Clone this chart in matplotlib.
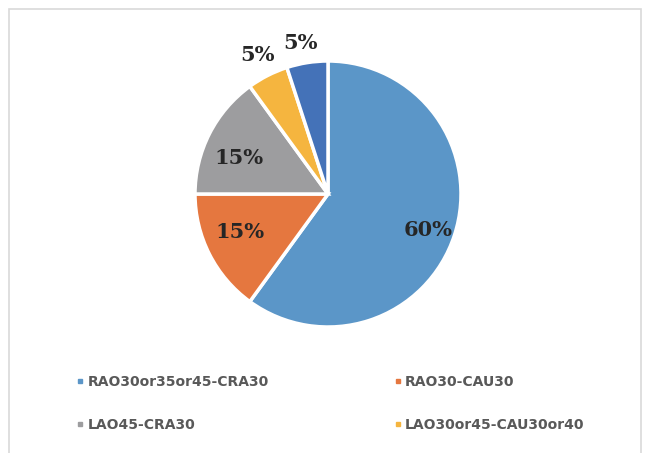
import numpy as np
import matplotlib
matplotlib.use("Agg")
import matplotlib.pyplot as plt
from matplotlib.lines import Line2D
from matplotlib.patches import Rectangle

categories = ["RAO30or35or45-CRA30", "RAO30-CAU30", "LAO45-CRA30",
              "LAO30or45-CAU30or40", "Other"]
shares = [60, 15, 15, 5, 5]
colors = ["#5B96C8", "#E5773F", "#9D9D9F", "#F5B53F", "#4472B8"]
label_dist = [0.80, 0.72, 0.72, 1.17, 1.155]
label_shift = [-2.0, -3.6, 4.8, 0.0, 1.5]   # degrees off the wedge middle
legend_count = 4

fig = plt.figure(figsize=(6.49, 4.53), dpi=100)
W, H = 649, 453

# chart frame
fig.patches.append(Rectangle((9 / W, -0.1), (641 - 9) / W, 1 - 9 / H + 0.1,
                             transform=fig.transFigure, fill=False,
                             edgecolor="#D9D9D9", linewidth=1.2))

cx, cy, r = 328, 194, 133
ax = fig.add_axes([(cx - r) / W, 1 - (cy + r) / H, 2 * r / W, 2 * r / H])
wedges, _ = ax.pie(shares, colors=colors, startangle=90, counterclock=False,
                   radius=1.0, wedgeprops=dict(edgecolor="white", linewidth=2.5))
ax.set_xlim(-1, 1)
ax.set_ylim(-1, 1)
ax.set_aspect("equal")
ax.axis("off")

for w, v, d, s in zip(wedges, shares, label_dist, label_shift):
    ang = np.deg2rad((w.theta1 + w.theta2) / 2 + s)
    ax.text(d * np.cos(ang), d * np.sin(ang), f"{v}%", ha="center", va="center",
            fontsize=15, fontweight="bold", family="DejaVu Serif",
            color="#262626", clip_on=False)

# row-major order for a two-column legend
order = [0, 2, 1, 3][:legend_count]
handles = [Line2D([], [], marker="s", linestyle="none", markersize=3.5,
                  markerfacecolor=colors[i], markeredgecolor=colors[i]) for i in order]
labels = [categories[i] for i in order]
leg = fig.legend(handles, labels, ncol=2, loc="upper left",
                 bbox_to_anchor=(70 / W, 1 - 368 / H), frameon=False,
                 prop=dict(family="DejaVu Sans", weight="bold", size=10),
                 handlelength=0.5, handletextpad=0.25, labelspacing=2.1,
                 columnspacing=9.05, borderpad=0)
for t in leg.get_texts():
    t.set_color("#595959")

fig.savefig("out.png", dpi=100)
